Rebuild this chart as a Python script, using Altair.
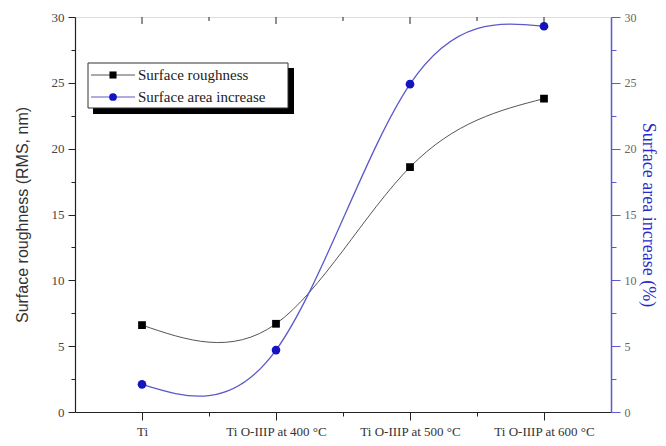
import json
import altair as alt
import pandas as pd

categories = ["Ti", "Ti O-IIIP at 400 °C", "Ti O-IIIP at 500 °C", "Ti O-IIIP at 600 °C"]
roughness = [6.6, 6.7, 18.6, 23.8]
area_increase = [2.1, 4.7, 24.9, 29.3]
y_ticks = [0, 2.5, 5, 7.5, 10, 12.5, 15, 17.5, 20, 22.5, 25, 27.5, 30]

idx = list(range(len(categories)))
df = pd.DataFrame({"i": idx, "cat": categories, "rough": roughness, "area": area_increase})
x_vals = sorted(set([i for i in idx] + [i + 0.5 for i in idx[:-1]]))
major_df = pd.DataFrame({"i": idx})
minor_df = pd.DataFrame({"i": [i + 0.5 for i in idx[:-1]]})
one = pd.DataFrame({"k": [0]})

BLUE = "#2a2acc"
BLUE_LINE = "#5a5acb"
SERIF = "Liberation Serif"
SANS = "Liberation Sans"

xscale = alt.Scale(domain=[-0.5, 3.5], nice=False, zero=False)
cats_js = json.dumps(categories, ensure_ascii=False)
x_axis = alt.Axis(
    values=x_vals, title=None, grid=False, orient="bottom",
    labelExpr=f"datum.value % 1 == 0 ? {cats_js}[datum.value] : ''",
    labelFont=SERIF, labelFontSize=13, labelColor="#333", labelPadding=5,
    domainColor="#222", domainWidth=1.2, tickColor="#222",
    tickSize={"condition": {"test": "datum.value % 1 == 0", "value": 8}, "value": 4},
)
x_enc = alt.X("i:Q", scale=xscale, axis=x_axis)

yscale = alt.Scale(domain=[0, 30], nice=False, zero=True)
left_axis = alt.Axis(
    values=y_ticks, grid=False, orient="left",
    labelExpr="datum.value % 5 == 0 ? datum.label : ''",
    labelFont=SERIF, labelFontSize=13, labelColor="#444", labelPadding=4,
    domainColor="#222", domainWidth=1.2, tickColor="#222",
    tickSize={"condition": {"test": "datum.value % 5 == 0", "value": 7}, "value": 4},
    title="Surface roughness (RMS, nm)", titleFont=SANS, titleFontSize=16,
    titleFontWeight="normal", titleColor="#333", titlePadding=21,
)
right_axis = alt.Axis(
    values=y_ticks, grid=False, orient="right",
    labelExpr="datum.value % 5 == 0 ? datum.label : ''",
    labelFont=SERIF, labelFontSize=12, labelColor="#666", labelPadding=4,
    domainColor=BLUE_LINE, domainWidth=1.5, tickColor=BLUE_LINE,
    tickSize={"condition": {"test": "datum.value % 5 == 0", "value": 9}, "value": 5},
    title="Surface area increase (%)", titleFont=SERIF, titleFontSize=18,
    titleFontWeight="normal", titleColor=BLUE, titlePadding=2, titleAngle=90,
)

base = alt.Chart(df)
rough_line = base.mark_line(interpolate="natural", color="#555", strokeWidth=1).encode(
    x=x_enc, y=alt.Y("rough:Q", scale=yscale, axis=left_axis))
rough_pts = base.mark_point(shape="square", filled=True, color="black", size=60, opacity=1).encode(
    x=x_enc, y=alt.Y("rough:Q", scale=yscale, axis=None))
area_line = base.mark_line(interpolate="natural", color=BLUE_LINE, strokeWidth=1.3).encode(
    x=x_enc, y=alt.Y("area:Q", scale=yscale, axis=right_axis))
area_pts = base.mark_point(shape="circle", filled=True, color="#1414c0", size=75, opacity=1).encode(
    x=x_enc, y=alt.Y("area:Q", scale=yscale, axis=None))

top_major = alt.Chart(major_df).mark_rule(color="#222").encode(
    x=x_enc, y=alt.value(0), y2=alt.value(7))
top_minor = alt.Chart(minor_df).mark_rule(color="#222").encode(
    x=x_enc, y=alt.value(0), y2=alt.value(4))

# legend (manual)
lg = alt.Chart(one)
shadow = lg.mark_rect(color="black").encode(
    x=alt.value(18), x2=alt.value(219), y=alt.value(51), y2=alt.value(97))
box = lg.mark_rect(fill="white", stroke="#333", strokeWidth=1).encode(
    x=alt.value(13), x2=alt.value(213), y=alt.value(46), y2=alt.value(91))
leg1_line = lg.mark_rule(color="#555").encode(
    x=alt.value(16), x2=alt.value(60), y=alt.value(58))
leg1_pt = lg.mark_point(shape="square", filled=True, color="black", size=50, opacity=1).encode(
    x=alt.value(38), y=alt.value(58))
leg1_txt = lg.mark_text(align="left", baseline="middle", font=SERIF, fontSize=15, color="#222").encode(
    x=alt.value(63), y=alt.value(58), text=alt.value("Surface roughness"))
leg2_line = lg.mark_rule(color=BLUE_LINE).encode(
    x=alt.value(16), x2=alt.value(60), y=alt.value(80))
leg2_pt = lg.mark_point(shape="circle", filled=True, color="#1414c0", size=60, opacity=1).encode(
    x=alt.value(38), y=alt.value(80))
leg2_txt = lg.mark_text(align="left", baseline="middle", font=SERIF, fontSize=15, color="#222").encode(
    x=alt.value(63), y=alt.value(80), text=alt.value("Surface area increase"))

chart = alt.layer(
    rough_line, rough_pts, area_line, area_pts, top_major, top_minor,
    shadow, box, leg1_line, leg1_pt, leg1_txt, leg2_line, leg2_pt, leg2_txt,
).resolve_scale(y="independent").properties(
    width=536, height=395,
    autosize=alt.AutoSizeParams(type="none"),
    padding={"left": 67, "top": 9, "right": 47, "bottom": 26},
).configure_view(stroke="#222", strokeWidth=1.2).configure(background="white")

chart.save("out.html", embed_options={"renderer": "svg", "actions": False})
